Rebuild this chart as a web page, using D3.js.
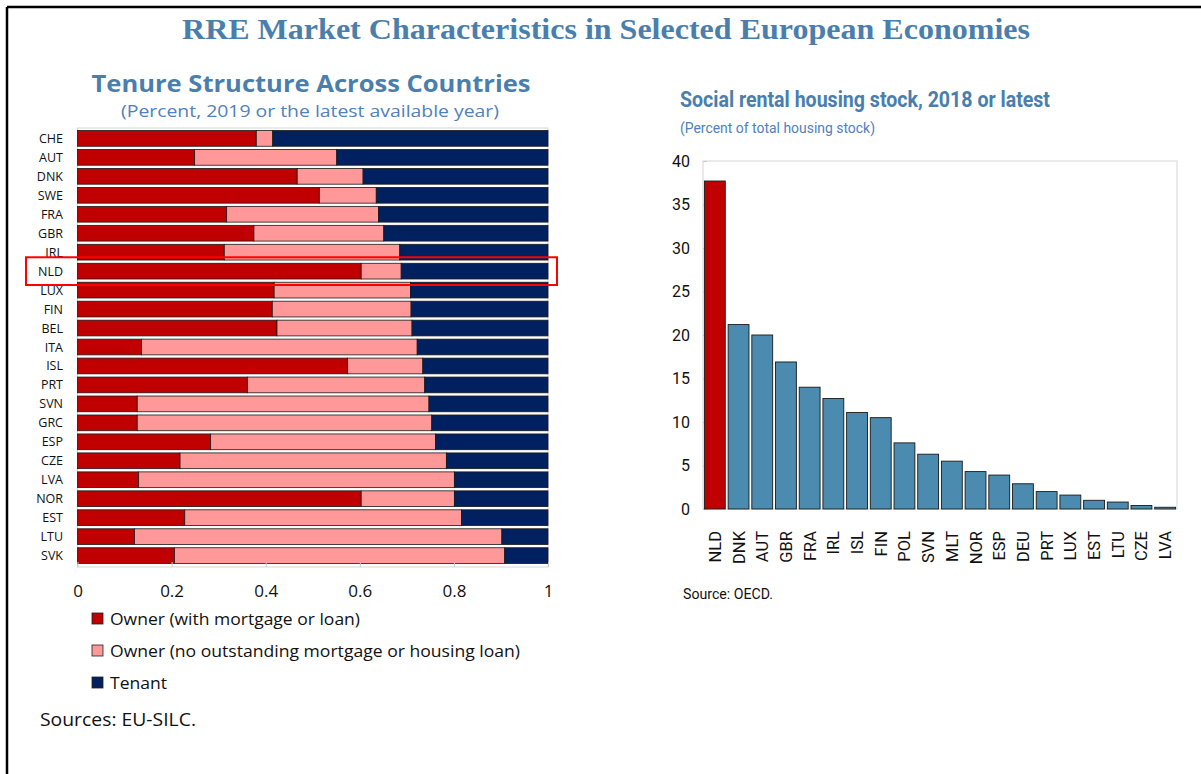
<!DOCTYPE html>
<html>
<head>
<meta charset="utf-8">
<script src="https://cdn.jsdelivr.net/npm/d3@7"></script>
<style>
  body { margin: 0; background: #fff; }
  svg { display: block; }
</style>
</head>
<body>
<svg id="viz" width="1201" height="774"></svg>
<script>
// Left panel: tenure structure (shares of households)
const tenureCountries = ["CHE","AUT","DNK","SWE","FRA","GBR","IRL","NLD","LUX","FIN","BEL","ITA","ISL","PRT","SVN","GRC","ESP","CZE","LVA","NOR","EST","LTU","SVK"];
const ownerMortgage = [0.380,0.249,0.467,0.514,0.317,0.375,0.312,0.603,0.418,0.414,0.424,0.136,0.574,0.361,0.127,0.127,0.283,0.218,0.130,0.603,0.228,0.121,0.206];
const ownerOutright = [0.035,0.302,0.140,0.121,0.323,0.276,0.373,0.085,0.290,0.295,0.287,0.586,0.160,0.377,0.620,0.626,0.478,0.566,0.671,0.198,0.588,0.781,0.702];
const tenant        = [0.585,0.449,0.393,0.365,0.360,0.349,0.315,0.312,0.292,0.291,0.289,0.278,0.266,0.262,0.253,0.247,0.239,0.216,0.199,0.199,0.184,0.098,0.092];
const tenureSeries = ["Owner (with mortgage or loan)", "Owner (no outstanding mortgage or housing loan)", "Tenant"];
const tenureTicks = [0, 0.2, 0.4, 0.6, 0.8, 1];

// Right panel: social rental housing stock, % of total housing stock
const socialCountries = ["NLD","DNK","AUT","GBR","FRA","IRL","ISL","FIN","POL","SVN","MLT","NOR","ESP","DEU","PRT","LUX","EST","LTU","CZE","LVA"];
const socialStock = [37.7,21.2,20.0,16.9,14.0,12.7,11.1,10.5,7.6,6.3,5.5,4.3,3.9,2.9,2.0,1.6,1.0,0.8,0.4,0.2];
const socialTicks = [0,5,10,15,20,25,30,35,40];

const tenureColors = ["#c00000", "#ff9999", "#002060"];
const titleBlue = "#4a7ead";
const sansFont = "'Open Sans', 'Noto Sans', sans-serif";
const narrowFont = "Roboto, 'Noto Sans', sans-serif";

const svg = d3.select("#viz");

// outer frame (only top and left visible in the crop)
svg.append("line").attr("x1", 7).attr("y1", 7).attr("x2", 1201).attr("y2", 7)
  .attr("stroke", "#000").attr("stroke-width", 2.5);
svg.append("line").attr("x1", 7).attr("y1", 7).attr("x2", 7).attr("y2", 774)
  .attr("stroke", "#000").attr("stroke-width", 2.5);

svg.append("text")
  .attr("x", 606).attr("y", 39)
  .attr("text-anchor", "middle")
  .attr("font-family", "'Liberation Serif', 'Times New Roman', serif")
  .attr("font-weight", "bold")
  .attr("font-size", 30)
  .attr("fill", titleBlue)
  .attr("textLength", 848)
  .attr("lengthAdjust", "spacingAndGlyphs")
  .text("RRE Market Characteristics in Selected European Economies");

// ---------------- left chart ----------------
svg.append("text")
  .attr("x", 311).attr("y", 92)
  .attr("text-anchor", "middle")
  .attr("font-family", sansFont)
  .attr("font-weight", "bold")
  .attr("font-size", 23)
  .attr("fill", titleBlue)
  .attr("textLength", 439)
  .attr("lengthAdjust", "spacingAndGlyphs")
  .text("Tenure Structure Across Countries");

svg.append("text")
  .attr("x", 310).attr("y", 117)
  .attr("text-anchor", "middle")
  .attr("font-family", sansFont)
  .attr("font-size", 17)
  .attr("fill", "#4f81bd")
  .attr("textLength", 378)
  .attr("lengthAdjust", "spacingAndGlyphs")
  .text("(Percent, 2019 or the latest available year)");

const xL = d3.scaleLinear().domain([0, 1]).range([77.5, 548]);
const yL = d3.scaleBand().domain(tenureCountries).range([129, 565])
  .paddingInner(0.17).paddingOuter(0.08);

svg.append("rect")
  .attr("x", 77.5).attr("y", 128).attr("width", 470.5).attr("height", 439)
  .attr("fill", "none").attr("stroke", "#d6d6d6");

const rows = tenureCountries.map((c, i) => {
  const vals = [ownerMortgage[i], ownerOutright[i], tenant[i]];
  let acc = 0;
  return vals.map((v, k) => {
    const seg = { country: c, k: k, x0: acc, x1: Math.min(1, acc + v) };
    acc += v;
    return seg;
  });
}).flat();

svg.append("g")
  .selectAll("rect")
  .data(rows)
  .join("rect")
  .attr("x", (d) => xL(d.x0))
  .attr("y", (d) => yL(d.country))
  .attr("width", (d) => xL(d.x1) - xL(d.x0))
  .attr("height", yL.bandwidth())
  .attr("fill", (d) => tenureColors[d.k])
  .attr("stroke", "#1a1a1a")
  .attr("stroke-width", 0.8);

// bottom axis: small inward ticks + labels
const axL = svg.append("g").attr("transform", "translate(0,567)")
  .call(d3.axisBottom(xL).tickValues(tenureTicks).tickFormat(d3.format("")).tickSize(-5).tickPadding(18));
axL.select(".domain").remove();
axL.selectAll(".tick line").attr("stroke", "#c8c8c8");
axL.selectAll(".tick text")
  .attr("font-family", sansFont).attr("font-size", 17).attr("fill", "#111");

svg.append("g")
  .selectAll("text")
  .data(tenureCountries)
  .join("text")
  .attr("x", 63)
  .attr("y", (d) => yL(d) + yL.bandwidth() / 2)
  .attr("dy", "0.36em")
  .attr("text-anchor", "end")
  .attr("font-family", sansFont)
  .attr("font-size", 12.5)
  .attr("fill", "#111")
  .text((d) => d);

// highlight box around NLD
svg.append("rect")
  .attr("x", 26).attr("y", yL("NLD") - 6)
  .attr("width", 531).attr("height", yL.bandwidth() + 12)
  .attr("fill", "none").attr("stroke", "#ff0000").attr("stroke-width", 2);

// legend
const legendWidths = [250, 410, 57];
const legend = svg.append("g")
  .selectAll("g")
  .data(tenureSeries)
  .join("g")
  .attr("transform", (d, i) => `translate(92,${619 + i * 32})`);
legend.append("rect")
  .attr("x", 0).attr("y", -6).attr("width", 11).attr("height", 11)
  .attr("fill", (d, i) => tenureColors[i]).attr("stroke", "#222").attr("stroke-width", 0.8);
legend.append("text")
  .attr("x", 18).attr("y", 0).attr("dy", "0.35em")
  .attr("font-family", sansFont).attr("font-size", 17).attr("fill", "#111")
  .attr("textLength", (d, i) => legendWidths[i])
  .attr("lengthAdjust", "spacingAndGlyphs")
  .text((d) => d);

svg.append("text")
  .attr("x", 40).attr("y", 726)
  .attr("font-family", sansFont).attr("font-size", 17.5).attr("fill", "#111")
  .attr("textLength", 156).attr("lengthAdjust", "spacingAndGlyphs")
  .text("Sources: EU-SILC.");

// ---------------- right chart ----------------
svg.append("text")
  .attr("x", 680).attr("y", 107)
  .attr("font-family", narrowFont)
  .attr("font-weight", "bold")
  .attr("font-size", 22)
  .attr("fill", titleBlue)
  .attr("textLength", 370)
  .attr("lengthAdjust", "spacingAndGlyphs")
  .text("Social rental housing stock, 2018 or latest");

svg.append("text")
  .attr("x", 680).attr("y", 133)
  .attr("font-family", narrowFont)
  .attr("font-size", 15)
  .attr("fill", "#4f81bd")
  .attr("textLength", 195)
  .attr("lengthAdjust", "spacingAndGlyphs")
  .text("(Percent of total housing stock)");

const xR = d3.scaleBand().domain(socialCountries).range([703, 1177])
  .paddingInner(0.12).paddingOuter(0.06);
const yR = d3.scaleLinear().domain([0, 40]).range([509, 161]);

svg.append("rect")
  .attr("x", 703).attr("y", 161).attr("width", 474).attr("height", 348)
  .attr("fill", "none").attr("stroke", "#d6d6d6");

const axR = svg.append("g").attr("transform", "translate(703,0)")
  .call(d3.axisLeft(yR).tickValues(socialTicks).tickSize(-4).tickPadding(13));
axR.select(".domain").remove();
axR.selectAll(".tick line").attr("stroke", "#c8c8c8");
axR.selectAll(".tick text")
  .attr("font-family", narrowFont).attr("font-size", 16).attr("fill", "#111");

svg.append("g")
  .selectAll("rect")
  .data(socialCountries)
  .join("rect")
  .attr("x", (d) => xR(d))
  .attr("y", (d, i) => yR(socialStock[i]))
  .attr("width", xR.bandwidth())
  .attr("height", (d, i) => yR(0) - yR(socialStock[i]))
  .attr("fill", (d) => (d === "NLD" ? "#c00000" : "#4b8bb0"))
  .attr("stroke", "#1a1a1a")
  .attr("stroke-width", 0.9);

svg.append("g")
  .selectAll("text")
  .data(socialCountries)
  .join("text")
  .attr("transform", (d) => `translate(${xR(d) + xR.bandwidth() / 2},531) rotate(-90)`)
  .attr("text-anchor", "end")
  .attr("dy", "0.36em")
  .attr("font-family", narrowFont)
  .attr("font-size", 16.5)
  .attr("fill", "#111")
  .text((d) => d);

svg.append("text")
  .attr("x", 683).attr("y", 599)
  .attr("font-family", narrowFont).attr("font-size", 15).attr("fill", "#111")
  .attr("textLength", 90).attr("lengthAdjust", "spacingAndGlyphs")
  .text("Source: OECD.");
</script>
</body>
</html>
